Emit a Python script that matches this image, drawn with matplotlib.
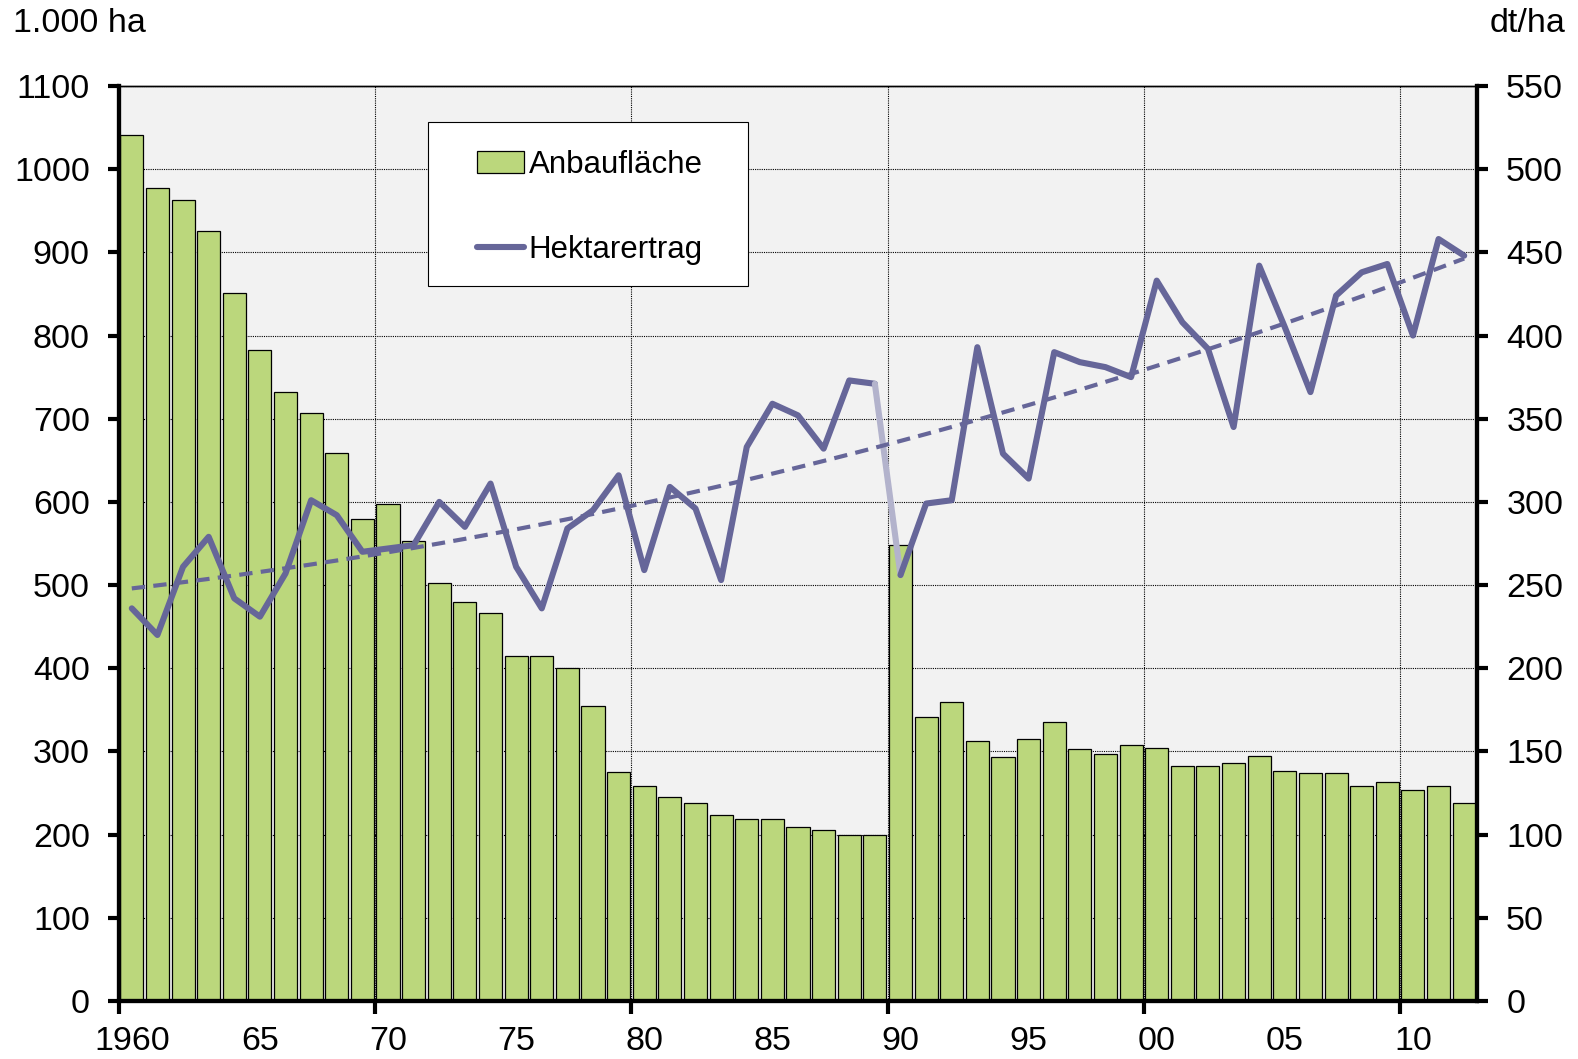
import numpy as np
import matplotlib
matplotlib.use("Agg")
import matplotlib.pyplot as plt
from matplotlib.patches import Rectangle

plt.rcParams['font.family'] = ['Liberation Sans', 'DejaVu Sans']

# Anbaufläche in 1.000 ha, 1960-2012
years = np.arange(1960, 2013)
flaeche = [1041, 977, 963, 926, 851, 783, 732, 707, 659, 580,
           597, 553, 503, 480, 467, 415, 415, 400, 355, 275,
           258, 245, 238, 224, 219, 219, 209, 205, 199, 200,
           548, 341, 360, 312, 293, 315, 335, 303, 297, 308,
           304, 282, 283, 286, 294, 276, 274, 274, 259, 263,
           254, 258, 238]

# Hektarertrag in dt/ha
ertrag = [236, 220, 261, 279, 242, 231, 257, 301, 292, 270,
          272, 274, 300, 285, 311, 261, 236, 284, 295, 316,
          259, 309, 296, 253, 333, 359, 352, 332, 373, 371,
          256, 299, 301, 393, 329, 314, 390, 384, 381, 375,
          433, 408, 392, 345, 442, 405, 366, 424, 438, 443,
          400, 458, 448]

xlabels = ['1960', '65', '70', '75', '80', '85', '90', '95', '00', '05', '10']

green = '#bbd77c'
purple = '#666699'
light = '#b3b3cc'
fs = 24.5

fig = plt.figure(figsize=(15.78, 10.59), dpi=100)
ax = fig.add_axes([0.0754, 0.0548, 0.8606, 0.864])
ax2 = ax.twinx()

x = years + 0.5
bars = ax.bar(x, flaeche, width=0.9, color=green, edgecolor='black', linewidth=0.9,
              zorder=2, label='Anbaufläche')

ax.set_xlim(1960, 2013)
ax.set_ylim(0, 1100)
ax.set_yticks(np.arange(0, 1101, 100))
ax.set_facecolor('#f2f2f2')
ax.set_axisbelow(True)
ax.grid(True, which='major', color='black', linestyle=(0, (1, 1)), linewidth=0.8)
ax.set_xticks(np.arange(1960, 2011, 10))
ax.set_xticklabels([])
ax.set_xticks(np.arange(1960, 2011, 5) + 0.5, minor=True)
ax.set_xticklabels(xlabels, minor=True)
ax.tick_params(axis='x', which='minor', length=0, pad=18, labelsize=fs)
ax.tick_params(axis='x', which='major', length=9, width=3, direction='out')
ax.tick_params(axis='y', length=8, width=3, direction='out', labelsize=fs, pad=13)

# line, with lighter connecting segment 1989 -> 1990
i90 = 30
kw = dict(lw=4.4, solid_joinstyle='round', solid_capstyle='round', zorder=3)
line, = ax2.plot(x[:i90], ertrag[:i90], color=purple, label='Hektarertrag', **kw)
ax2.plot(x[i90 - 1:i90 + 1], ertrag[i90 - 1:i90 + 1], color=light, **kw)
ax2.plot(x[i90:], ertrag[i90:], color=purple, **kw)

# trend line (polynomial fit of the yield series)
coef = np.polyfit(x, ertrag, 2)
ax2.plot(x, np.polyval(coef, x), color=purple, lw=3, linestyle=(0, (3.2, 2)), zorder=3)

ax2.set_ylim(0, 550)
ax2.set_yticks(np.arange(0, 551, 50))
ax2.tick_params(axis='y', length=8, width=3, direction='out', labelsize=fs, pad=13)

for a in (ax, ax2):
    for s in ('left', 'right', 'bottom'):
        a.spines[s].set_linewidth(3)
    a.spines['top'].set_linewidth(1)

fig.text(0.008, 0.978, '1.000 ha', fontsize=fs, va='center', ha='left')
fig.text(0.992, 0.978, 'dt/ha', fontsize=fs, va='center', ha='right')

# legend box drawn separately, legend entries without frame
ax2.add_patch(Rectangle((0.2273, 0.7816), 0.2357, 0.1793, transform=ax2.transAxes,
                        facecolor='white', edgecolor='black', linewidth=0.8, zorder=4))
leg = ax2.legend([bars, line], ['Anbaufläche', 'Hektarertrag'],
                 loc='center left', bbox_to_anchor=(0.2636, 0.867),
                 fontsize=22.5, frameon=False, borderpad=0, labelspacing=1.75,
                 handlelength=1.5, handletextpad=0.15, borderaxespad=0)
leg.set_zorder(5)

fig.savefig('out.png', dpi=100)
